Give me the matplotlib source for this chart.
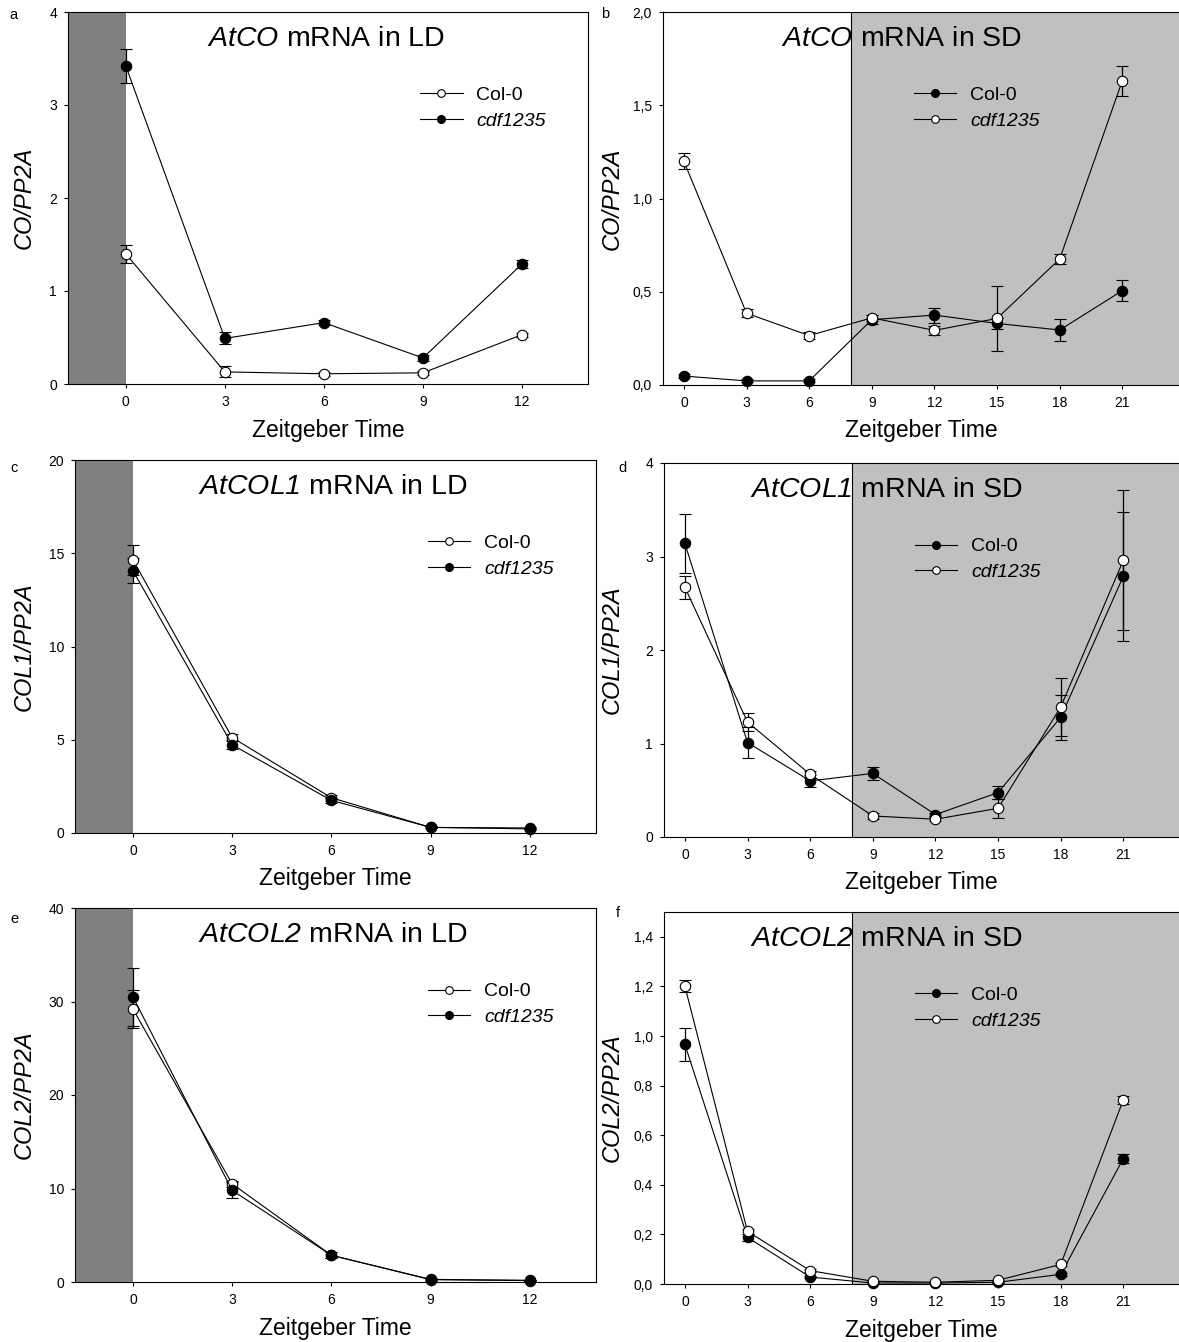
import matplotlib
matplotlib.use("Agg")
import matplotlib.pyplot as plt
from matplotlib.lines import Line2D

plt.rcParams['font.family'] = ['Liberation Sans', 'DejaVu Sans']
plt.rcParams['mathtext.fontset'] = 'custom'
# digits inside math fall back to the rm font, so make it italic as well
plt.rcParams['mathtext.rm'] = 'Liberation Sans:italic'
plt.rcParams['mathtext.it'] = 'Liberation Sans:italic'

# Zeitgeber time points
zt_ld = [0, 3, 6, 9, 12]
zt_sd = [0, 3, 6, 9, 12, 15, 18, 21]

# a: AtCO in LD
co_ld_col0 = [1.40, 0.13, 0.11, 0.12, 0.53]
co_ld_col0_err = [0.10, 0.06, 0.02, 0.02, 0.02]
co_ld_cdf = [3.42, 0.49, 0.66, 0.28, 1.29]
co_ld_cdf_err = [0.18, 0.065, 0.025, 0.03, 0.045]

# b: AtCO in SD
co_sd_col0 = [0.048, 0.022, 0.022, 0.35, 0.375, 0.33, 0.295, 0.506]
co_sd_col0_err = [0.01, 0.008, 0.008, 0.025, 0.04, 0.03, 0.06, 0.055]
co_sd_cdf = [1.20, 0.385, 0.265, 0.36, 0.293, 0.357, 0.676, 1.632]
co_sd_cdf_err = [0.044, 0.022, 0.018, 0.015, 0.025, 0.176, 0.025, 0.08]

# c: AtCOL1 in LD
col1_ld_col0 = [14.65, 5.12, 1.89, 0.30, 0.22]
col1_ld_col0_err = [0.8, 0.2, 0.15, 0.05, 0.04]
col1_ld_cdf = [14.07, 4.73, 1.75, 0.30, 0.27]
col1_ld_cdf_err = [0.65, 0.25, 0.15, 0.05, 0.04]

# d: AtCOL1 in SD
col1_sd_col0 = [3.14, 1.01, 0.60, 0.68, 0.24, 0.475, 1.28, 2.79]
col1_sd_col0_err = [0.315, 0.17, 0.06, 0.07, 0.02, 0.07, 0.24, 0.69]
col1_sd_cdf = [2.67, 1.23, 0.67, 0.225, 0.19, 0.307, 1.39, 2.96]
col1_sd_cdf_err = [0.12, 0.10, 0.04, 0.03, 0.02, 0.10, 0.31, 0.75]

# e: AtCOL2 in LD
col2_ld_col0 = [29.2, 10.5, 2.86, 0.25, 0.15]
col2_ld_col0_err = [2.05, 0.3, 0.3, 0.1, 0.05]
col2_ld_cdf = [30.5, 9.8, 2.86, 0.28, 0.18]
col2_ld_cdf_err = [3.1, 0.85, 0.3, 0.1, 0.05]

# f: AtCOL2 in SD
col2_sd_col0 = [0.966, 0.188, 0.028, 0.004, 0.004, 0.007, 0.039, 0.506]
col2_sd_col0_err = [0.066, 0.015, 0.004, 0.002, 0.002, 0.002, 0.005, 0.02]
col2_sd_cdf = [1.201, 0.212, 0.054, 0.011, 0.007, 0.015, 0.079, 0.743]
col2_sd_cdf_err = [0.024, 0.01, 0.005, 0.003, 0.002, 0.003, 0.005, 0.017]

W, H = 1179, 1342
fig = plt.figure(figsize=(W / 100, H / 100), dpi=100)


def add_axes_px(left, right, top, bottom):
    return fig.add_axes([left / W, 1 - bottom / H, (right - left) / W, (bottom - top) / H])


def draw_series(ax, x, y, err, filled):
    ax.errorbar(x, y, yerr=err, fmt='-o', color='black', lw=0.8,
                ms=7.5, mec='black', mew=0.8,
                mfc='black' if filled else 'white',
                elinewidth=0.9, capsize=4, capthick=0.9,
                clip_on=False, zorder=3)


def setup(ax, ld, ylim, yticks, ylabels, ylabel, title, title_x, col0_filled, px):
    left, right, top, bottom = px
    if ld:
        ax.set_xlim(-1.75, 14)
        ax.set_xticks(zt_ld)
        ax.axvspan(-1.75, 0, facecolor='#808080', edgecolor='none', zorder=0)
        ha = 'center'
    else:
        ax.set_xlim(-1, 24)
        ax.set_xticks(zt_sd)
        ax.axvspan(8, 24, facecolor='#c0c0c0', edgecolor='none', zorder=0)
        ax.axvline(8, color='black', lw=0.8, zorder=1)
        ax.spines['right'].set_visible(False)
        ha = 'right'
    ax.set_ylim(*ylim)
    ax.set_yticks(yticks)
    ax.set_yticklabels(ylabels)
    ax.tick_params(direction='out', length=3, width=0.8, labelsize=10, pad=5,
                   top=False, right=False)
    for s in ax.spines.values():
        s.set_linewidth(0.8)

    ax.text(title_x, 0.908, title, transform=ax.get_xaxis_transform(),
            ha=ha, va='baseline', fontsize=20.5)

    ax.set_xlabel('Zeitgeber Time', fontsize=16.5)
    ax.xaxis.set_label_coords(0.5 if ld else (921 - left) / (right - left),
                              -46 / (bottom - top))
    ax.xaxis.label.set_va('center')
    ax.set_ylabel(ylabel, fontsize=17, style='italic')
    ylx = 24 if ld else 612.5
    ax.yaxis.set_label_coords((ylx - left) / (right - left), 0.5)
    ax.yaxis.label.set_va('center')

    h_open = Line2D([], [], color='black', lw=0.8, marker='o', ms=5.5,
                    mfc='white', mec='black', mew=0.8)
    h_fill = Line2D([], [], color='black', lw=0.8, marker='o', ms=5.5,
                    mfc='black', mec='black')
    handles = [h_fill, h_open] if col0_filled else [h_open, h_fill]
    leg = ax.legend(handles, ['Col-0', 'cdf1235'], loc='center left',
                    bbox_to_anchor=(0.677 if ld else 0.48, 0.742),
                    frameon=False, fontsize=14, borderpad=0, borderaxespad=0,
                    handlelength=2.2, handletextpad=0.7, labelspacing=0.42)
    leg.get_texts()[1].set_style('italic')


panels = [
    ('a', (68, 588, 12, 384), True),
    ('b', (663, 1185, 12, 385), False),
    ('c', (75, 596, 460, 833), True),
    ('d', (664, 1186, 463, 837), False),
    ('e', (75, 596, 908, 1282), True),
    ('f', (664, 1186, 912, 1284), False),
]
axes = {}
for name, px, ld in panels:
    axes[name] = add_axes_px(*px)

comma = lambda vals, fmt: [fmt.format(v).replace('.', ',') for v in vals]

ax = axes['a']
draw_series(ax, zt_ld, co_ld_col0, co_ld_col0_err, False)
draw_series(ax, zt_ld, co_ld_cdf, co_ld_cdf_err, True)
setup(ax, True, (0, 4), [0, 1, 2, 3, 4], ['0', '1', '2', '3', '4'], 'CO/PP2A',
      r'$\mathit{AtCO}$ mRNA in LD', 6.05, False, panels[0][1])

ax = axes['b']
draw_series(ax, zt_sd, co_sd_col0, co_sd_col0_err, True)
draw_series(ax, zt_sd, co_sd_cdf, co_sd_cdf_err, False)
bt = [0, 0.5, 1.0, 1.5, 2.0]
setup(ax, False, (0, 2), bt, comma(bt, '{:.1f}'), 'CO/PP2A',
      r'$\mathit{AtCO}$ mRNA in SD', 16.2, True, panels[1][1])

ax = axes['c']
draw_series(ax, zt_ld, col1_ld_col0, col1_ld_col0_err, False)
draw_series(ax, zt_ld, col1_ld_cdf, col1_ld_cdf_err, True)
setup(ax, True, (0, 20), [0, 5, 10, 15, 20], ['0', '5', '10', '15', '20'], 'COL1/PP2A',
      r'$\mathit{AtCOL1}$ mRNA in LD', 6.05, False, panels[2][1])

ax = axes['d']
draw_series(ax, zt_sd, col1_sd_col0, col1_sd_col0_err, True)
draw_series(ax, zt_sd, col1_sd_cdf, col1_sd_cdf_err, False)
setup(ax, False, (0, 4), [0, 1, 2, 3, 4], ['0', '1', '2', '3', '4'], 'COL1/PP2A',
      r'$\mathit{AtCOL1}$ mRNA in SD', 16.2, True, panels[3][1])

ax = axes['e']
draw_series(ax, zt_ld, col2_ld_col0, col2_ld_col0_err, False)
draw_series(ax, zt_ld, col2_ld_cdf, col2_ld_cdf_err, True)
setup(ax, True, (0, 40), [0, 10, 20, 30, 40], ['0', '10', '20', '30', '40'], 'COL2/PP2A',
      r'$\mathit{AtCOL2}$ mRNA in LD', 6.05, False, panels[4][1])

ax = axes['f']
draw_series(ax, zt_sd, col2_sd_col0, col2_sd_col0_err, True)
draw_series(ax, zt_sd, col2_sd_cdf, col2_sd_cdf_err, False)
ft = [0, 0.2, 0.4, 0.6, 0.8, 1.0, 1.2, 1.4]
setup(ax, False, (0, 1.5), ft, comma(ft, '{:.1f}'), 'COL2/PP2A',
      r'$\mathit{AtCOL2}$ mRNA in SD', 16.2, True, panels[5][1])

# panel letters
for letter, x, y in [('a', 13, 15), ('b', 605, 14), ('c', 14, 468),
                     ('d', 622, 468), ('e', 14, 919), ('f', 618, 913)]:
    fig.text(x / W, 1 - y / H, letter, fontsize=10.5, ha='center', va='center')

fig.savefig('out.png', dpi=100)
